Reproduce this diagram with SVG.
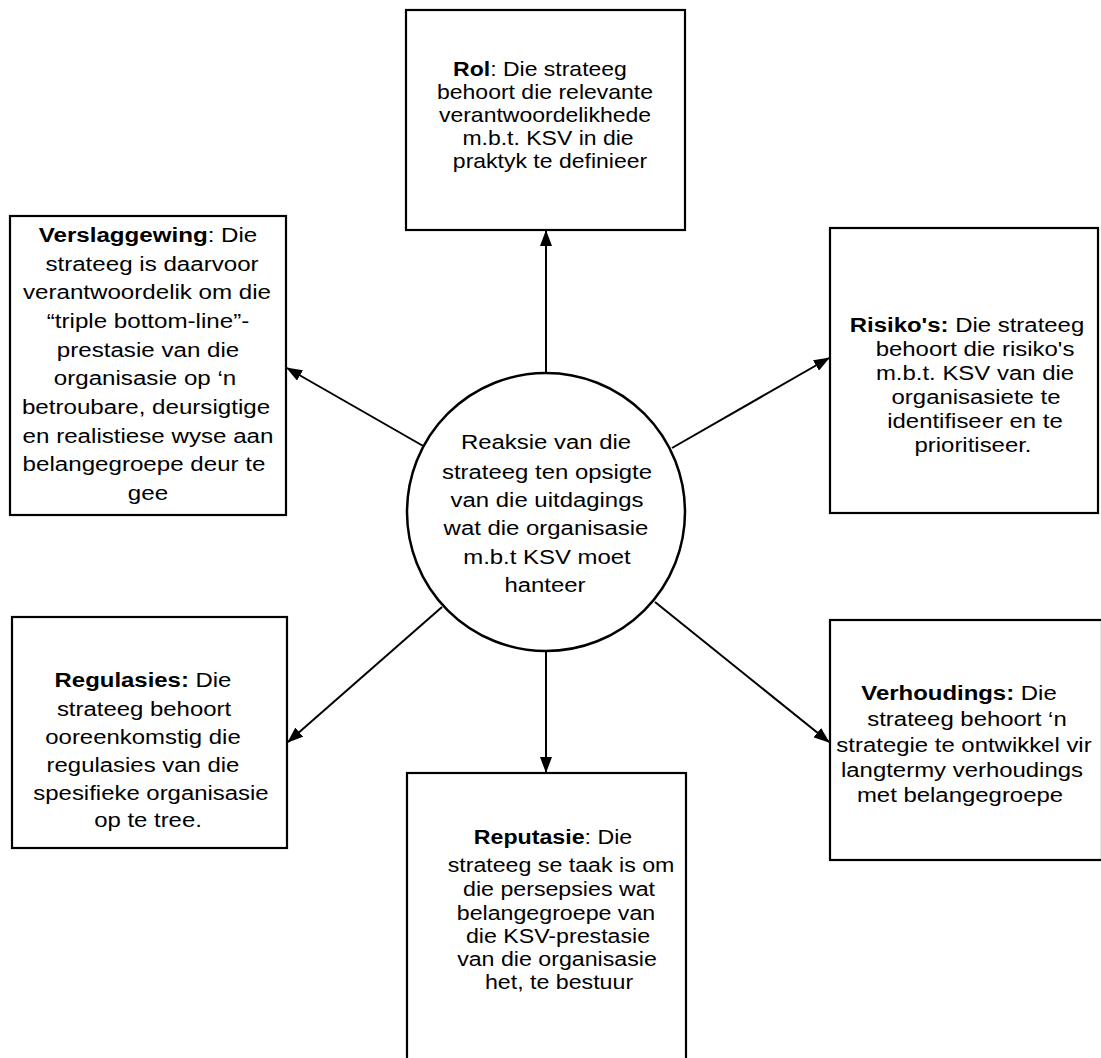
<svg xmlns="http://www.w3.org/2000/svg" width="1101" height="1058" viewBox="0 0 1101 1058">
<style>
.box{fill:#fff;stroke:#000;stroke-width:2.2}
.circ{fill:#fff;stroke:#000;stroke-width:2.5}
.con{fill:none;stroke:#000;stroke-width:2}
.t{font-family:"Liberation Sans",Arial,sans-serif;font-size:21px;fill:#000;text-anchor:middle}
.s{font-size:20px}
.b{font-weight:bold}
</style>
<defs>
<marker id="ah" markerUnits="userSpaceOnUse" markerWidth="16" markerHeight="12" refX="15" refY="6" orient="auto">
<path d="M0,0 L16,6 L0,12 z" fill="#000"/>
</marker>
</defs>
<rect width="1101" height="1058" fill="#fff"/>
<g id="connectors">
<path class="con" d="M546,373 L546,231" marker-end="url(#ah)"/>
<path class="con" d="M546,651 L546,772" marker-end="url(#ah)"/>
<path class="con" d="M425,447 L287,368" marker-end="url(#ah)"/>
<path class="con" d="M672,448 L829,358" marker-end="url(#ah)"/>
<path class="con" d="M442,607 L288,742" marker-end="url(#ah)"/>
<path class="con" d="M655,602 L829,742" marker-end="url(#ah)"/>
</g>
<g id="center">
<circle class="circ" cx="546" cy="512" r="139"/>
<text class="t" transform="translate(546 449) scale(1.14 1)">Reaksie van die</text>
<text class="t" transform="translate(547 479) scale(1.14 1)">strateeg ten opsigte</text>
<text class="t" transform="translate(547 507) scale(1.14 1)">van die uitdagings</text>
<text class="t" transform="translate(546 535) scale(1.14 1)">wat die organisasie</text>
<text class="t" transform="translate(547 564) scale(1.14 1)">m.b.t KSV moet</text>
<text class="t" transform="translate(545 592) scale(1.14 1)">hanteer</text>
</g>
<g id="rol">
<rect class="box" x="406" y="10" width="279" height="220"/>
<text class="t s" transform="translate(540 76) scale(1.15 1)"><tspan class="b">Rol</tspan>: Die strateeg</text>
<text class="t s" transform="translate(545 99) scale(1.15 1)">behoort die relevante</text>
<text class="t s" transform="translate(545 122) scale(1.15 1)">verantwoordelikhede</text>
<text class="t s" transform="translate(548 145) scale(1.15 1)">m.b.t. KSV in die</text>
<text class="t s" transform="translate(550 168) scale(1.15 1)">praktyk te definieer</text>
</g>
<g id="verslaggewing">
<rect class="box" x="10" y="216" width="276" height="299"/>
<text class="t" transform="translate(148 242) scale(1.15 1)"><tspan class="b">Verslaggewing</tspan>: Die</text>
<text class="t" transform="translate(152 271) scale(1.15 1)">strateeg is daarvoor</text>
<text class="t" transform="translate(147 299) scale(1.15 1)">verantwoordelik om die</text>
<text class="t" transform="translate(148 328) scale(1.15 1)">“triple bottom-line”-</text>
<text class="t" transform="translate(148 357) scale(1.15 1)">prestasie van die</text>
<text class="t" transform="translate(145 385) scale(1.15 1)">organisasie op ‘n</text>
<text class="t" transform="translate(146 414) scale(1.15 1)">betroubare, deursigtige</text>
<text class="t" transform="translate(148 443) scale(1.15 1)">en realistiese wyse aan</text>
<text class="t" transform="translate(144 471) scale(1.15 1)">belangegroepe deur te</text>
<text class="t" transform="translate(148 500) scale(1.15 1)">gee</text>
</g>
<g id="risikos">
<rect class="box" x="830" y="228" width="268" height="285"/>
<text class="t" transform="translate(967 332) scale(1.14 1)"><tspan class="b">Risiko's:</tspan> Die strateeg</text>
<text class="t" transform="translate(975 356) scale(1.14 1)">behoort die risiko's</text>
<text class="t" transform="translate(975 380) scale(1.14 1)">m.b.t. KSV van die</text>
<text class="t" transform="translate(976 404) scale(1.14 1)">organisasiete te</text>
<text class="t" transform="translate(975 428) scale(1.14 1)">identifiseer en te</text>
<text class="t" transform="translate(973 452) scale(1.14 1)">prioritiseer.</text>
</g>
<g id="regulasies">
<rect class="box" x="12" y="617" width="275" height="231"/>
<text class="t" transform="translate(143 687) scale(1.14 1)"><tspan class="b">Regulasies:</tspan> Die</text>
<text class="t" transform="translate(144 716) scale(1.14 1)">strateeg behoort</text>
<text class="t" transform="translate(143 744) scale(1.14 1)">ooreenkomstig die</text>
<text class="t" transform="translate(143 772) scale(1.14 1)">regulasies van die</text>
<text class="t" transform="translate(151 800) scale(1.14 1)">spesifieke organisasie</text>
<text class="t" transform="translate(148 827) scale(1.14 1)">op te tree.</text>
</g>
<g id="verhoudings">
<rect class="box" x="830" y="620" width="272" height="240"/>
<text class="t" transform="translate(959 700) scale(1.14 1)"><tspan class="b">Verhoudings:</tspan> Die</text>
<text class="t" transform="translate(967 726) scale(1.14 1)">strateeg behoort ‘n</text>
<text class="t" transform="translate(964 752) scale(1.14 1)">strategie te ontwikkel vir</text>
<text class="t" transform="translate(962 777) scale(1.14 1)">langtermy verhoudings</text>
<text class="t" transform="translate(960 802) scale(1.14 1)">met belangegroepe</text>
</g>
<g id="reputasie">
<rect class="box" x="407" y="773" width="279" height="300"/>
<text class="t s" transform="translate(553 844) scale(1.16 1)"><tspan class="b">Reputasie</tspan>: Die</text>
<text class="t s" transform="translate(561 872) scale(1.16 1)">strateeg se taak is om</text>
<text class="t s" transform="translate(559 896) scale(1.16 1)">die persepsies wat</text>
<text class="t s" transform="translate(556 920) scale(1.16 1)">belangegroepe van</text>
<text class="t s" transform="translate(558 943) scale(1.16 1)">die KSV-prestasie</text>
<text class="t s" transform="translate(557 966) scale(1.16 1)">van die organisasie</text>
<text class="t s" transform="translate(559 989) scale(1.16 1)">het, te bestuur</text>
</g>
</svg>
